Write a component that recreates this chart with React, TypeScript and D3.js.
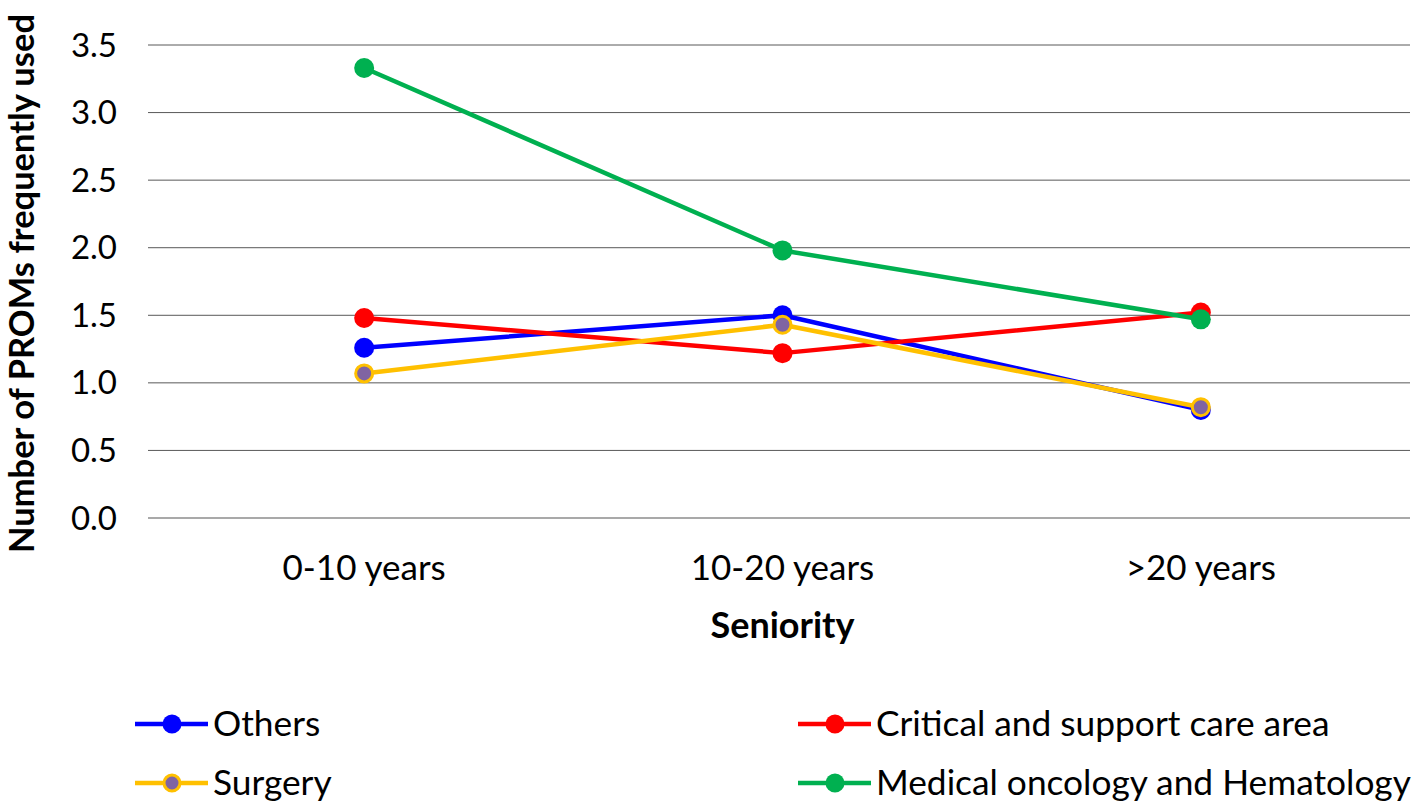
import { useRef, useEffect } from "react";
import * as d3 from "d3";

const categories = ["0-10 years", "10-20 years", ">20 years"];
const yTicks = [0, 0.5, 1, 1.5, 2, 2.5, 3, 3.5];

const othersValues = [1.26, 1.5, 0.8];
const criticalValues = [1.48, 1.22, 1.52];
const surgeryValues = [1.07, 1.43, 0.82];
const medicalValues = [3.33, 1.98, 1.47];

const series = [
  { name: "Others", values: othersValues, color: "#0000ff", fill: "#0000ff", stroke: null },
  { name: "Critical and support care area", values: criticalValues, color: "#ff0000", fill: "#ff0000", stroke: null },
  { name: "Surgery", values: surgeryValues, color: "#ffc000", fill: "#8064a2", stroke: "#ffc000" },
  { name: "Medical oncology and Hematology", values: medicalValues, color: "#00b050", fill: "#00b050", stroke: null },
];

const FONT = "Lato, 'Open Sans', sans-serif";

export default function App() {
  const ref = useRef<SVGSVGElement>(null);

  useEffect(() => {
    const svg = d3.select(ref.current);
    svg.selectAll("*").remove();

    const width = 1419;
    const height = 803;
    const margin = { top: 45, right: 9, bottom: 285, left: 155 };

    const x = d3.scalePoint<string>()
      .domain(categories)
      .range([margin.left, width - margin.right])
      .padding(0.5);

    const y = d3.scaleLinear()
      .domain([0, 3.5])
      .range([height - margin.bottom, margin.top]);

    // gridlines + ticks
    const grid = svg.append("g");
    yTicks.forEach(t => {
      grid.append("line")
        .attr("x1", margin.left - 7)
        .attr("x2", width - margin.right)
        .attr("y1", y(t))
        .attr("y2", y(t))
        .attr("stroke", t === 0 ? "#8c8c8c" : "#595959")
        .attr("stroke-width", t === 0 ? 1.5 : 1);
      grid.append("text")
        .attr("x", 117)
        .attr("y", y(t))
        .attr("dy", "0.35em")
        .attr("text-anchor", "end")
        .attr("font-family", FONT)
        .attr("font-size", 33)
        .attr("fill", "#000")
        .text(t.toFixed(1));
    });

    categories.forEach(c => {
      svg.append("text")
        .attr("x", x(c)!)
        .attr("y", 580)
        .attr("text-anchor", "middle")
        .attr("font-family", FONT)
        .attr("font-size", 35)
        .attr("fill", "#000")
        .text(c);
    });

    svg.append("text")
      .attr("x", x(categories[1])!)
      .attr("y", 638)
      .attr("text-anchor", "middle")
      .attr("font-family", FONT)
      .attr("font-weight", "bold")
      .attr("font-size", 36)
      .text("Seniority");

    svg.append("text")
      .attr("transform", `translate(34,${(margin.top + height - margin.bottom) / 2 + 2}) rotate(-90)`)
      .attr("text-anchor", "middle")
      .attr("font-family", FONT)
      .attr("font-weight", "bold")
      .attr("font-size", 34.5)
      .text("Number of PROMs frequently used");

    const line = d3.line<number>()
      .x((_, i) => x(categories[i])!)
      .y(d => y(d));

    series.forEach(s => {
      const g = svg.append("g");
      g.append("path")
        .attr("d", line(s.values))
        .attr("fill", "none")
        .attr("stroke", s.color)
        .attr("stroke-width", 4.5)
        .attr("stroke-linejoin", "round");
      g.selectAll("circle")
        .data(s.values)
        .enter()
        .append("circle")
        .attr("cx", (_, i) => x(categories[i])!)
        .attr("cy", d => y(d))
        .attr("r", s.stroke ? 8.5 : 10)
        .attr("fill", s.fill)
        .attr("stroke", s.stroke || "none")
        .attr("stroke-width", s.stroke ? 3 : 0);
    });

    // legend
    const legendPos = [
      { x: 135, y: 724 },
      { x: 798, y: 724 },
      { x: 135, y: 783 },
      { x: 798, y: 783 },
    ];
    series.forEach((s, i) => {
      const p = legendPos[i];
      const g = svg.append("g").attr("transform", `translate(${p.x},${p.y})`);
      g.append("line")
        .attr("x1", 0)
        .attr("x2", 73)
        .attr("stroke", s.color)
        .attr("stroke-width", 4.5);
      g.append("circle")
        .attr("cx", 37)
        .attr("r", s.stroke ? 8 : 9.5)
        .attr("fill", s.fill)
        .attr("stroke", s.stroke || "none")
        .attr("stroke-width", s.stroke ? 3 : 0);
      g.append("text")
        .attr("x", 78)
        .attr("dy", "0.35em")
        .attr("font-family", FONT)
        .attr("font-size", 35.3)
        .attr("fill", "#000")
        .text(s.name);
    });
  }, []);

  return (
    <svg
      ref={ref}
      width={1419}
      height={803}
      style={{ position: "absolute", left: 0, top: 0, background: "#fff" }}
    />
  );
}
